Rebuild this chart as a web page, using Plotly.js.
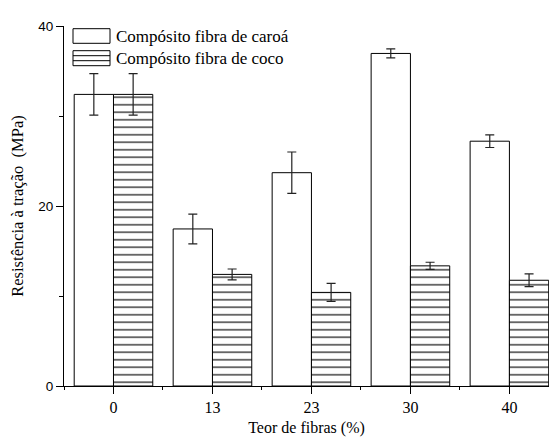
<!DOCTYPE html>
<html>
<head>
<meta charset="utf-8">
<script src="https://cdn.plot.ly/plotly-3.0.1.min.js"></script>
<style>html,body{margin:0;padding:0;background:#fff;}#chart{width:549px;height:437px;}</style>
</head>
<body>
<div id="chart"></div>
<script>
// Data
var categories = ['0', '13', '23', '30', '40'];
var caroaValues = [32.4, 17.45, 23.7, 36.95, 27.2];
var caroaErrors = [2.3, 1.65, 2.3, 0.5, 0.7];
var cocoValues = [32.4, 12.4, 10.4, 13.35, 11.75];
var cocoErrors = [2.3, 0.6, 1.0, 0.4, 0.7];
var seriesNames = ['Compósito fibra de caroá', 'Compósito fibra de coco'];

var xIdx = categories.map(function (c, i) { return i; });
var serif = '"Liberation Serif", "Times New Roman", Times, serif';
var sans = '"Liberation Sans", Arial, Helvetica, sans-serif';

var traces = [
  {
    type: 'bar', name: seriesNames[0], x: xIdx, y: caroaValues,
    marker: { color: '#ffffff', line: { color: '#000', width: 1 } },
    error_y: { type: 'data', array: caroaErrors, visible: true, color: '#222', thickness: 1.2, width: 4.5 },
    showlegend: false
  },
  {
    type: 'bar', name: seriesNames[1], x: xIdx, y: cocoValues,
    marker: { color: '#ffffff', line: { color: '#000', width: 1 },
      pattern: { shape: '-', fgcolor: '#000', bgcolor: '#ffffff', size: 7.5, solidity: 0.15 } },
    error_y: { type: 'data', array: cocoErrors, visible: true, color: '#222', thickness: 1.2, width: 4.5 },
    showlegend: false
  }
];

// manual legend (paper coords)
var plotL = 64, plotW = 485, plotT = 26, plotH = 360;
function px(x) { return (x - plotL) / plotW; }
function py(y) { return (plotT + plotH - y) / plotH; }

var shapes = [
  { type: 'rect', xref: 'paper', yref: 'paper', x0: px(73), x1: px(110), y0: py(43.3), y1: py(28.7), line: { color: '#000', width: 1 }, fillcolor: '#fff' },
  { type: 'rect', xref: 'paper', yref: 'paper', x0: px(73), x1: px(110), y0: py(65.7), y1: py(50.7), line: { color: '#000', width: 1 }, fillcolor: '#fff' },
  { type: 'line', xref: 'paper', yref: 'paper', x0: px(73), x1: px(110), y0: py(55.7), y1: py(55.7), line: { color: '#000', width: 1 } },
  { type: 'line', xref: 'paper', yref: 'paper', x0: px(73), x1: px(110), y0: py(60.7), y1: py(60.7), line: { color: '#000', width: 1 } }
];

var annotations = [
  { xref: 'paper', yref: 'paper', x: px(114), y: py(36), xanchor: 'left', yanchor: 'middle', showarrow: false,
    text: seriesNames[0], font: { family: serif, size: 17, color: '#000' } },
  { xref: 'paper', yref: 'paper', x: px(114), y: py(58), xanchor: 'left', yanchor: 'middle', showarrow: false,
    text: seriesNames[1], font: { family: serif, size: 17, color: '#000' } }
];

var layout = {
  width: 549, height: 437,
  margin: { l: plotL, r: 0, t: plotT, b: 437 - plotT - plotH, pad: 0 },
  paper_bgcolor: '#fff', plot_bgcolor: '#fff',
  font: { family: serif, color: '#000' },
  barmode: 'group', bargap: 0.206, bargroupgap: 0,
  showlegend: false,
  xaxis: {
    range: [-0.5, 4.4], tickvals: xIdx, ticktext: categories,
    showline: true, linecolor: '#000', linewidth: 1, showgrid: false, zeroline: false,
    ticks: 'outside', ticklen: 7, tickcolor: '#000', tickwidth: 1,
    minor: { dtick: 0.5, tick0: 0.5, ticks: 'outside', ticklen: 3, tickcolor: '#000', showgrid: false },
    tickfont: { family: serif, size: 16, color: '#000' },
    title: { text: 'Teor de fibras (%)', font: { family: serif, size: 16, color: '#000' }, standoff: 12 },
    automargin: false
  },
  yaxis: {
    range: [0, 40], dtick: 20, tick0: 0,
    showline: true, linecolor: '#000', linewidth: 1, showgrid: false, zeroline: false,
    ticks: 'outside', ticklen: 7, tickcolor: '#000', tickwidth: 1,
    minor: { dtick: 10, ticks: 'outside', ticklen: 4, tickcolor: '#000', showgrid: false },
    tickfont: { family: sans, size: 13.5, color: '#000' },
    title: { text: 'Resistência à tração\u00A0 (MPa)', font: { family: serif, size: 16.5, color: '#000' }, standoff: 10 },
    automargin: false
  },
  shapes: shapes,
  annotations: annotations
};

Plotly.newPlot('chart', traces, layout, { displayModeBar: false, staticPlot: true });
</script>
</body>
</html>
